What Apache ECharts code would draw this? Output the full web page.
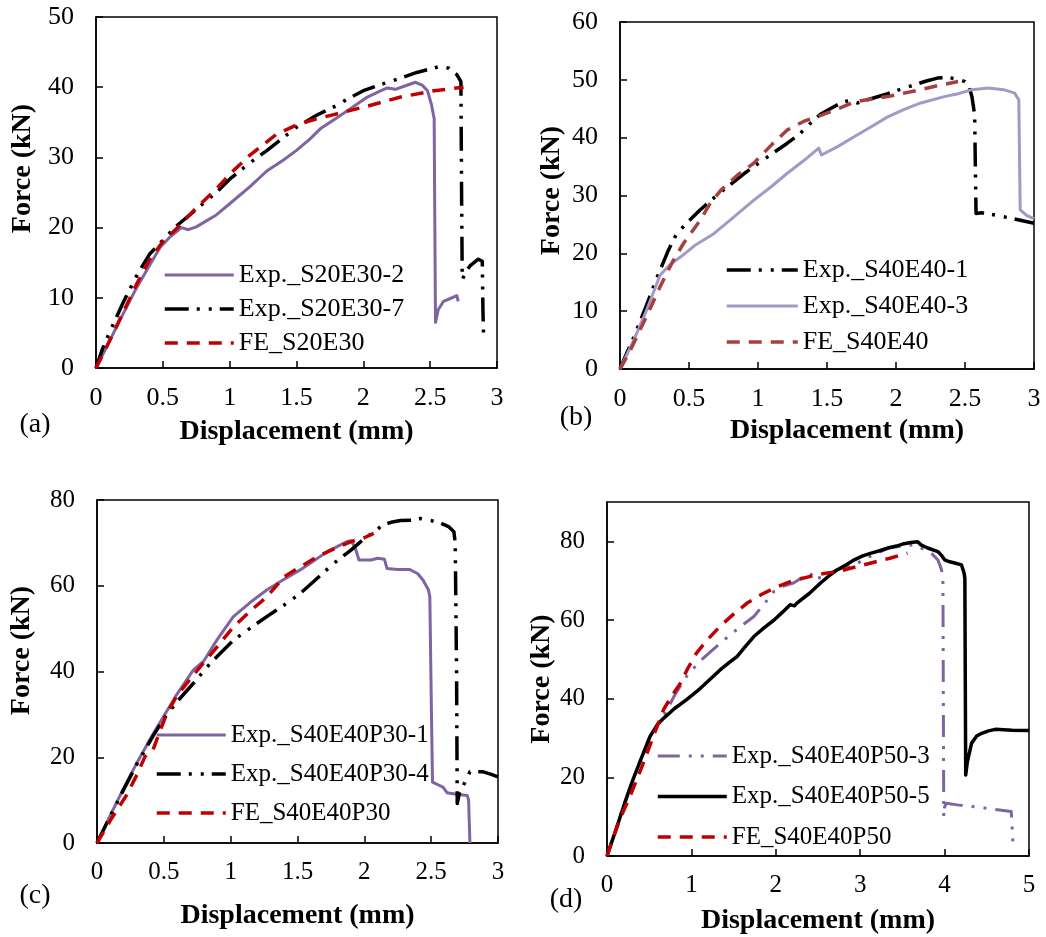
<!DOCTYPE html>
<html>
<head>
<meta charset="utf-8">
<script src="https://cdn.jsdelivr.net/npm/echarts@6/dist/echarts.min.js"></script>
<style>
html,body{margin:0;padding:0;background:#fff;}
#chart{width:1046px;height:937px;}
</style>
</head>
<body>
<div id="chart"></div>
<script>
// ---------- DATA (displacement mm, force kN) ----------
const panelLabels = ['(a)', '(b)', '(c)', '(d)'];
const xTitle = 'Displacement (mm)';
const yTitle = 'Force (kN)';

const namesA = ['Exp._S20E30-2', 'Exp._S20E30-7', 'FE_S20E30'];
const namesB = ['Exp._S40E40-1', 'Exp._S40E40-3', 'FE_S40E40'];
const namesC = ['Exp._S40E40P30-1', 'Exp._S40E40P30-4', 'FE_S40E40P30'];
const namesD = ['Exp._S40E40P50-3', 'Exp._S40E40P50-5', 'FE_S40E40P50'];

const a_exp2 = [[0,0],[0.1,3.8],[0.2,7.6],[0.3,11.3],[0.4,14.6],[0.48,17.2],[0.55,18.6],[0.64,20.0],[0.69,19.7],[0.75,20.1],[0.9,21.8],[1.0,23.4],[1.15,25.8],[1.28,28.1],[1.4,29.6],[1.5,31.0],[1.6,32.6],[1.68,34.1],[1.8,35.6],[1.9,36.9],[2.03,38.6],[2.12,39.4],[2.18,39.9],[2.24,39.7],[2.3,40.1],[2.39,40.7],[2.44,40.3],[2.48,39.5],[2.51,37.5],[2.53,35.5],[2.535,20],[2.54,6.5],[2.56,8.3],[2.6,9.5],[2.65,9.9],[2.7,10.3],[2.71,9.5]];
const a_exp7 = [[0,0],[0.05,2.8],[0.1,5],[0.2,9.2],[0.3,13],[0.4,16.2],[0.5,18.2],[0.6,20.2],[0.75,22.6],[0.9,25],[1.0,26.9],[1.15,29.2],[1.28,31],[1.4,32.8],[1.5,34.3],[1.65,36.0],[1.78,37.2],[1.9,38.5],[2.0,39.5],[2.15,40.5],[2.28,41.3],[2.4,42.1],[2.5,42.6],[2.58,43],[2.64,42.7],[2.7,41.8],[2.73,40.8],[2.735,25],[2.74,12.6],[2.77,13.8],[2.8,14.6],[2.86,15.5],[2.89,15.2],[2.895,8],[2.9,4.3]];
const a_fe = [[0,0],[0.1,3.8],[0.2,7.8],[0.3,11.8],[0.4,15.4],[0.5,18],[0.6,19.8],[0.75,22.8],[0.9,25.5],[1.0,27.6],[1.15,30.3],[1.35,33.3],[1.5,34.6],[1.65,35.5],[1.78,36.1],[2.03,37.3],[2.28,38.6],[2.53,39.5],[2.75,40.0]];

const b_exp1 = [[0,0],[0.05,2.8],[0.1,5.5],[0.2,11.5],[0.27,15.9],[0.35,20.5],[0.41,23.4],[0.5,25.6],[0.58,27.5],[0.7,30],[0.78,31.5],[0.9,33.8],[0.97,35],[1.1,37.2],[1.21,39],[1.3,40.6],[1.38,42.5],[1.45,44],[1.53,45.1],[1.6,46],[1.67,46.5],[1.72,46],[1.8,46.6],[1.94,47.6],[2.05,48.5],[2.13,49.1],[2.22,49.8],[2.3,50.3],[2.38,50.4],[2.45,50.1],[2.5,49.7],[2.53,48.8],[2.55,47.1],[2.57,43.9],[2.575,35],[2.58,26.9],[2.62,27],[2.72,26.6],[2.85,26],[3.0,25.2]];
const b_exp3 = [[0,0],[0.1,5],[0.19,10],[0.29,16.2],[0.36,18],[0.44,19.4],[0.55,21.5],[0.68,23.4],[0.8,25.8],[0.97,29.2],[1.1,31.6],[1.21,33.8],[1.33,36],[1.44,38.2],[1.46,37],[1.47,36.8],[1.58,38.5],[1.7,40.2],[1.82,41.9],[1.94,43.6],[2.06,44.9],[2.18,46],[2.35,47.1],[2.45,47.6],[2.55,48.3],[2.67,48.6],[2.78,48.3],[2.86,47.7],[2.89,46.5],[2.895,37],[2.9,27.5],[2.95,26.5],[3.0,26]];
const b_fe = [[0,0],[0.06,2.5],[0.12,5.5],[0.2,9.5],[0.29,14.2],[0.38,18.5],[0.46,21.7],[0.58,25.7],[0.65,28.5],[0.73,30.9],[0.85,33.5],[0.97,35.6],[1.1,38.8],[1.21,41.3],[1.33,42.8],[1.46,43.9],[1.58,45],[1.7,46.2],[1.82,46.7],[1.94,47.1],[2.06,47.7],[2.18,48.3],[2.3,49],[2.45,49.7]];

const c_exp1 = [[0,0],[0.1,6.5],[0.2,12.8],[0.3,18.8],[0.42,25.5],[0.5,29.6],[0.6,34.8],[0.72,40.3],[0.8,42.5],[0.9,47.5],[1.02,52.8],[1.15,56.2],[1.27,59],[1.4,61.5],[1.52,63.7],[1.62,65.8],[1.72,67.9],[1.8,69.2],[1.87,70.3],[1.9,70.5],[1.93,69],[1.96,66],[2.05,66],[2.1,66.4],[2.15,66.2],[2.17,64],[2.25,63.8],[2.34,63.8],[2.4,62.8],[2.44,61.3],[2.48,59],[2.49,57.4],[2.5,35],[2.51,14.2],[2.59,13],[2.62,11.7],[2.7,11.3],[2.77,11.1],[2.78,10],[2.785,5],[2.79,0]];
const c_exp4 = [[0,0],[0.1,6.3],[0.2,12.5],[0.3,18.5],[0.42,25],[0.5,29],[0.6,33],[0.72,37.2],[0.85,42],[1.02,47.3],[1.15,50.2],[1.27,52.8],[1.4,55.5],[1.52,58.2],[1.65,61.8],[1.77,65.2],[1.9,68.3],[2.0,71],[2.07,72.5],[2.14,74.2],[2.2,74.8],[2.27,75.2],[2.35,75.3],[2.42,75.7],[2.5,75.2],[2.57,74.6],[2.63,73.8],[2.67,72.6],[2.68,70],[2.69,40],[2.695,9.2],[2.71,11.5],[2.75,14],[2.79,16.6],[2.89,16.6],[2.95,16],[3.0,15.4]];
const c_fe = [[0,0],[0.1,5.3],[0.22,11.1],[0.3,16],[0.36,20.2],[0.42,21.8],[0.47,26],[0.52,30],[0.6,34.5],[0.7,38.3],[0.77,41],[0.9,45.8],[1.02,50.4],[1.15,54.2],[1.27,57.4],[1.4,62.1],[1.52,64.4],[1.65,66.8],[1.78,68.7],[1.9,70.3],[2.0,71.2],[2.07,72.2]];

const d_exp3 = [[0,0],[0.1,6.5],[0.2,13],[0.3,19],[0.4,24.5],[0.51,30.4],[0.6,33.5],[0.67,35.5],[0.8,40.8],[0.94,45.6],[1.1,49.5],[1.34,54.1],[1.55,57.8],[1.74,60.9],[1.86,64],[1.98,67.3],[2.1,68.7],[2.21,69.4],[2.3,70.6],[2.41,71.9],[2.43,71.2],[2.45,70.2],[2.55,71],[2.73,72.8],[2.93,74],[3.1,76],[3.33,78.3],[3.5,78.8],[3.64,79.1],[3.75,78],[3.85,76.8],[3.92,75.3],[3.96,73],[3.98,71.1],[3.985,40],[3.99,10],[4.0,12.5],[4.02,13.4],[4.15,13],[4.32,12.6],[4.55,12],[4.79,11.3],[4.8,11],[4.81,3.2]];
const d_exp5 = [[0,0],[0.1,6.3],[0.2,12.8],[0.3,19],[0.4,24.5],[0.51,30.4],[0.6,33.5],[0.67,35],[0.8,37.5],[0.94,39.7],[1.1,42.5],[1.34,47.3],[1.45,49.2],[1.54,50.7],[1.64,53.3],[1.74,55.8],[1.86,58],[1.98,60],[2.08,62],[2.17,63.9],[2.22,63.6],[2.25,64.3],[2.4,66.8],[2.53,69.4],[2.63,71.2],[2.73,72.8],[2.83,74],[2.93,75.3],[3.03,76.3],[3.13,77],[3.23,77.6],[3.33,78.3],[3.43,78.8],[3.52,79.4],[3.6,79.7],[3.68,79.9],[3.72,79.1],[3.8,78.3],[3.92,77.4],[3.96,76.5],[4.0,75.3],[4.06,74.8],[4.12,74.5],[4.2,74],[4.23,72],[4.24,70.6],[4.245,45],[4.25,20.6],[4.27,24],[4.32,28.7],[4.38,30.5],[4.44,31.2],[4.52,31.8],[4.6,32.2],[4.8,32],[5.0,31.9]];
const d_fe = [[0,0],[0.08,5],[0.15,9.2],[0.3,16.6],[0.43,23.6],[0.55,30.5],[0.67,37.2],[0.77,40.8],[0.87,43.9],[0.96,47.8],[1.06,51.6],[1.2,55.2],[1.34,58.4],[1.5,61.5],[1.66,64.3],[1.84,66.6],[2.02,68.5],[2.2,70],[2.41,71.1],[2.57,71.8],[2.73,72.3],[2.93,73.4],[3.13,74.5],[3.35,75.7],[3.56,77]];

// axis ranges
const xRanges = [[0,3,0.5],[0,3,0.5],[0,3,0.5],[0,5,1]];
const yRanges = [[0,50,10],[0,60,10],[0,80,20],[0,90,20]];

// ---------- STYLE ----------
const FONT = '"Liberation Serif", "Times New Roman", serif';
const PURPLE = '#8064A2', LPURPLE = '#A597C6', RED = '#C00000', BRED = '#A5403D', BLACK = '#000000';
const DDOT = [24, 8, 3, 9, 3, 8];
const DASH = [13, 9];

const grids = [
  {left: 96, top: 17, width: 401, height: 351},
  {left: 620, top: 22, width: 414, height: 347},
  {left: 97, top: 500, width: 401, height: 343},
  {left: 607, top: 502, width: 422, height: 354}
];
const xNameGap = [50, 48, 59, 51];
const yNameGap = [59, 54, 61, 48];
const yNamePad = [[0,0,0,48],[0,0,0,10],[0,0,0,42],[0,0,0,0]];
const xNamePad = [[0,0,0,0],[0,0,0,40],[0,0,0,0],[0,0,0,0]];
const fontSizes = [26, 26, 25, 25];

const option = {
  animation: false,
  backgroundColor: '#fff',
  grid: grids.map(g => Object.assign({show: true, borderColor: '#000', borderWidth: 1.5, backgroundColor: 'transparent'}, g)),
  xAxis: grids.map((g, i) => ({
    type: 'value', gridIndex: i,
    min: xRanges[i][0], max: xRanges[i][1], interval: xRanges[i][2],
    name: xTitle, nameLocation: 'middle', nameGap: xNameGap[i],
    nameTextStyle: {fontFamily: FONT, fontWeight: 'bold', fontSize: 28, color: '#000', padding: xNamePad[i]},
    axisLine: {show: true, onZero: false, lineStyle: {color: '#000', width: 1.5}},
    axisTick: {show: true, inside: true, length: 7, lineStyle: {color: '#000', width: 1.5}},
    axisLabel: {fontFamily: FONT, fontSize: fontSizes[i], color: '#000', margin: 17},
    splitLine: {show: false}
  })),
  yAxis: grids.map((g, i) => ({
    type: 'value', gridIndex: i,
    min: yRanges[i][0], max: yRanges[i][1], interval: yRanges[i][2],
    name: yTitle, nameLocation: 'middle', nameGap: yNameGap[i],
    nameTextStyle: {fontFamily: FONT, fontWeight: 'bold', fontSize: 28, color: '#000', padding: yNamePad[i]},
    axisLine: {show: true, onZero: false, lineStyle: {color: '#000', width: 1.5}},
    axisTick: {show: true, inside: true, length: 7, lineStyle: {color: '#000', width: 1.5}},
    axisLabel: {fontFamily: FONT, fontSize: fontSizes[i], color: '#000', margin: 22, showMaxLabel: i !== 3},
    splitLine: {show: false}
  })),
  legend: [
    {names: namesA, left: 163, top: 260, w: 69, gap: 4, fs: 26},
    {names: namesB, left: 725, top: 255, w: 71, gap: 6, fs: 26},
    {names: namesC, left: 155, top: 720, w: 69, gap: 9, fs: 25},
    {names: namesD, left: 656, top: 741, w: 69, gap: 10.5, fs: 25}
  ].map(l => ({
    data: l.names, orient: 'vertical', left: l.left, top: l.top,
    itemWidth: l.w, itemHeight: 30, itemGap: l.gap, padding: 0,
    selectedMode: false,
    itemStyle: {opacity: 0, borderWidth: 0},
    lineStyle: {width: 'inherit', type: 'inherit', opacity: 1},
    textStyle: {fontFamily: FONT, fontSize: l.fs, color: '#000', lineHeight: 30}
  })),
  series: [
    mk(namesA[0], 0, a_exp2, PURPLE, 3, 'solid'),
    mk(namesA[1], 0, a_exp7, BLACK, 3.5, DDOT),
    mk(namesA[2], 0, a_fe, RED, 3.5, DASH),
    mk(namesB[0], 1, b_exp1, BLACK, 3.5, DDOT),
    mk(namesB[1], 1, b_exp3, LPURPLE, 3, 'solid'),
    mk(namesB[2], 1, b_fe, BRED, 3.5, DASH),
    mk(namesC[0], 2, c_exp1, PURPLE, 3, 'solid'),
    mk(namesC[1], 2, c_exp4, BLACK, 3.5, DDOT),
    mk(namesC[2], 2, c_fe, RED, 3.5, DASH),
    mk(namesD[0], 3, d_exp3, PURPLE, 3, [22, 9, 3, 9, 3, 9]),
    mk(namesD[1], 3, d_exp5, BLACK, 3.5, 'solid'),
    mk(namesD[2], 3, d_fe, RED, 3.5, DASH)
  ],
  graphic: [
    {pos: [35, 425]}, {pos: [576, 418]}, {pos: [35, 896]}, {pos: [566, 900]}
  ].map((p, i) => ({
    type: 'text', x: p.pos[0], y: p.pos[1],
    style: {text: panelLabels[i], font: '28px ' + FONT, fill: '#000', textAlign: 'center', textVerticalAlign: 'middle'}
  }))
};

function mk(name, idx, data, color, width, type) {
  return {
    name: name, type: 'line', xAxisIndex: idx, yAxisIndex: idx,
    data: data, showSymbol: false, symbol: 'none', smooth: false,
    color: color,
    lineStyle: {color: color, width: width, type: type, cap: 'butt', join: 'round'}
  };
}

const chart = echarts.init(document.getElementById('chart'), null, {renderer: 'canvas'});
chart.setOption(option);
</script>
</body>
</html>
